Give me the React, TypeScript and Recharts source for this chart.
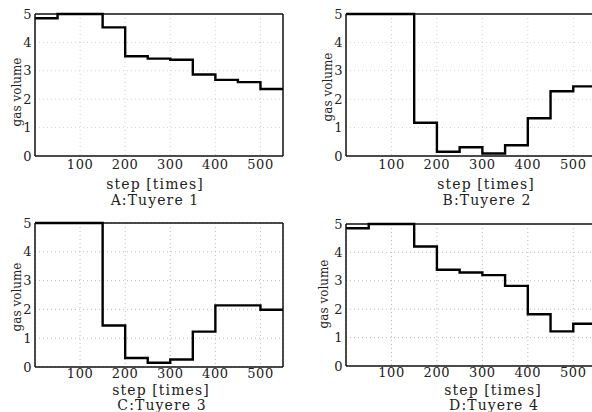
import { LineChart, Line, XAxis, YAxis, CartesianGrid, ReferenceLine } from "recharts";

const steps = [0, 50, 100, 150, 200, 250, 300, 350, 400, 450, 500, 550];
const tuyere1 = [4.85, 5, 5, 4.53, 3.51, 3.43, 3.39, 2.87, 2.68, 2.6, 2.36, 2.36];
const tuyere2 = [5, 5, 5, 1.17, 0.15, 0.31, 0.09, 0.38, 1.33, 2.28, 2.45, 2.45];
const tuyere3 = [5, 5, 5, 1.44, 0.31, 0.15, 0.26, 1.23, 2.14, 2.14, 1.99, 1.99];
const tuyere4 = [4.85, 5, 5, 4.21, 3.39, 3.29, 3.2, 2.82, 1.82, 1.22, 1.49, 1.49];

const xTicks = [100, 200, 300, 400, 500];
const yTicks = [0, 1, 2, 3, 4, 5];

const FONT = "'DejaVu Serif', serif";

type PanelProps = {
  values: number[];
  left: number;
  top: number;
  width: number;
  axisWidth: number;
  margin: { top: number; right: number; bottom: number };
  grid: string;
  tickGap: number;
};

const Panel = ({ values, left, top, width, axisWidth, margin, grid, tickGap }: PanelProps) => {
  const data = steps.map((s, i) => ({ x: s, v: values[i] }));
  const tickStyle = { fill: "#222", fontSize: 13, fontFamily: FONT, letterSpacing: 0.6 };
  return (
    <div style={{ position: "absolute", left, top }}>
      <LineChart width={width} height={206} data={data} margin={{ top: margin.top, right: margin.right, left: 0, bottom: 0 }}>
        <CartesianGrid stroke={grid} strokeDasharray="1 3" />
        <XAxis
          type="number"
          dataKey="x"
          domain={[0, 550]}
          ticks={xTicks}
          interval={0}
          allowDataOverflow
          height={margin.bottom}
          tickLine={false}
          tickSize={0}
          tickMargin={tickGap}
          axisLine={{ stroke: "#111", strokeWidth: 1.5 }}
          tick={tickStyle}
        />
        <YAxis
          type="number"
          domain={[0, 5]}
          ticks={yTicks}
          interval={0}
          width={axisWidth}
          tickLine={false}
          tickSize={0}
          tickMargin={3}
          axisLine={{ stroke: "#111", strokeWidth: 1.5 }}
          tick={tickStyle}
        />
        <ReferenceLine y={5} stroke="#111" strokeWidth={1.5} />
        <ReferenceLine x={550} stroke="#111" strokeWidth={1.5} />
        <Line
          type="stepAfter"
          dataKey="v"
          stroke="#000"
          strokeWidth={2.4}
          dot={false}
          isAnimationActive={false}
        />
      </LineChart>
    </div>
  );
};

const Txt = ({ x, y, children, rotate, size = 14 }: { x: number; y: number; children: string; rotate?: boolean; size?: number }) => (
  <div
    style={{
      position: "absolute",
      left: x,
      top: y,
      transform: `translate(-50%, -50%)${rotate ? " rotate(-90deg)" : ""}`,
      whiteSpace: "nowrap",
      fontFamily: FONT,
      fontSize: size,
      letterSpacing: rotate ? 0 : 1.1,
      color: "#222",
      lineHeight: 1,
    }}
  >
    {children}
  </div>
);

const App = () => {
  return (
    <div style={{ position: "absolute", left: 0, top: 0, width: 592, height: 412, overflow: "hidden", background: "#fff" }}>
      <Panel values={tuyere1} left={0} top={0} width={296} axisWidth={35} margin={{ top: 14, right: 13, bottom: 50 }} grid="#d4d4d4" tickGap={4} />
      <Panel values={tuyere2} left={296} top={0} width={300} axisWidth={50} margin={{ top: 14, right: 0, bottom: 50 }} grid="#d4d4d4" tickGap={4} />
      <Panel values={tuyere3} left={0} top={206} width={296} axisWidth={35} margin={{ top: 17, right: 13, bottom: 45 }} grid="#bdbdbd" tickGap={2} />
      <Panel values={tuyere4} left={296} top={206} width={300} axisWidth={50} margin={{ top: 18, right: 0, bottom: 46 }} grid="#bdbdbd" tickGap={2} />

      <Txt x={17} y={92} rotate size={12}>gas volume</Txt>
      <Txt x={328} y={87} rotate size={12}>gas volume</Txt>
      <Txt x={17} y={297} rotate size={12}>gas volume</Txt>
      <Txt x={324} y={294} rotate size={12}>gas volume</Txt>

      <Txt x={155} y={184}>step [times]</Txt>
      <Txt x={486} y={184}>step [times]</Txt>
      <Txt x={161} y={390}>step [times]</Txt>
      <Txt x={493} y={390}>step [times]</Txt>

      <Txt x={155} y={200}>A:Tuyere 1</Txt>
      <Txt x={487} y={200}>B:Tuyere 2</Txt>
      <Txt x={162} y={405}>C:Tuyere 3</Txt>
      <Txt x={494} y={405}>D:Tuyere 4</Txt>
    </div>
  );
};

export default App;
